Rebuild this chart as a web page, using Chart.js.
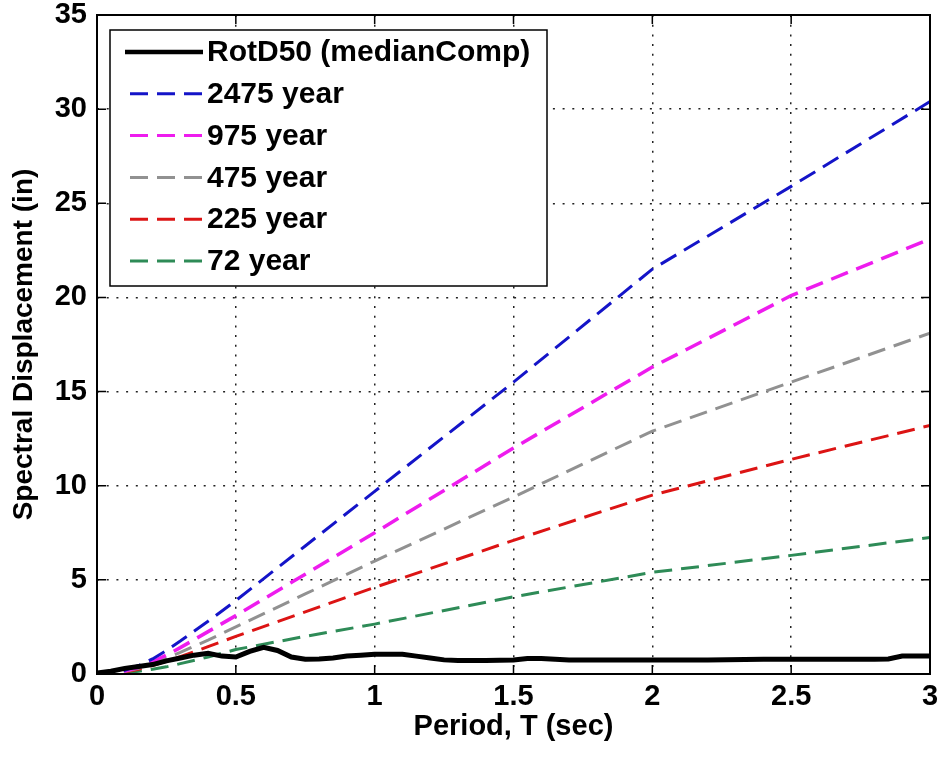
<!DOCTYPE html>
<html>
<head>
<meta charset="utf-8">
<script src="https://cdn.jsdelivr.net/npm/chart.js@4/dist/chart.umd.min.js"></script>
<style>
  html, body { margin: 0; padding: 0; background: #fff; }
  #wrap { width: 942px; height: 759px; }
</style>
</head>
<body>
<div id="wrap"><canvas id="chart" width="942" height="759"></canvas></div>
<script>
// Values
const seriesNames = ['RotD50 (medianComp)', '2475 year', '975 year', '475 year', '225 year', '72 year'];

const periods = [0, 0.05, 0.1, 0.15, 0.2, 0.25, 0.3, 0.4, 0.5, 0.75, 1, 1.5, 2, 2.5, 3];
const sd2475 = [0, 0.05, 0.2, 0.45, 0.8, 1.25, 1.75, 2.8, 3.9, 6.8, 9.7, 15.5, 21.5, 25.9, 30.4];
const sd975  = [0, 0.04, 0.16, 0.36, 0.65, 1.0, 1.4, 2.25, 3.1, 5.3, 7.5, 12.0, 16.3, 20.1, 23.1];
const sd475  = [0, 0.03, 0.13, 0.3, 0.55, 0.85, 1.15, 1.8, 2.5, 4.25, 6.0, 9.4, 12.9, 15.5, 18.1];
const sd225  = [0, 0.03, 0.1, 0.25, 0.45, 0.68, 0.92, 1.45, 2.0, 3.3, 4.6, 7.1, 9.5, 11.4, 13.2];
const sd72   = [0, 0.02, 0.06, 0.14, 0.25, 0.38, 0.55, 0.9, 1.3, 2.0, 2.65, 4.1, 5.4, 6.3, 7.25];

const rotPeriods = [0, 0.05, 0.1, 0.15, 0.2, 0.25, 0.3, 0.35, 0.4, 0.45, 0.5, 0.55, 0.6, 0.65, 0.7, 0.75,
  0.8, 0.85, 0.9, 0.95, 1.0, 1.05, 1.1, 1.15, 1.2, 1.25, 1.3, 1.4, 1.5, 1.55, 1.6, 1.65, 1.7, 1.8, 1.9,
  2.0, 2.1, 2.2, 2.4, 2.6, 2.8, 2.85, 2.9, 3.0];
const rotD50 = [0.05, 0.15, 0.3, 0.4, 0.5, 0.7, 0.85, 1.0, 1.1, 0.95, 0.9, 1.2, 1.42, 1.25, 0.9, 0.78,
  0.8, 0.85, 0.95, 1.0, 1.05, 1.05, 1.05, 0.95, 0.85, 0.75, 0.72, 0.72, 0.75, 0.82, 0.82, 0.78, 0.75,
  0.75, 0.75, 0.75, 0.75, 0.75, 0.78, 0.78, 0.78, 0.8, 0.95, 0.95];

const xTicks = [0, 0.5, 1, 1.5, 2, 2.5, 3];
const yTicks = [0, 5, 10, 15, 20, 25, 30, 35];

const FONT = 'Liberation Sans, Arial, Helvetica, sans-serif';

function pts(xs, ys) {
  return xs.map((x, i) => ({ x: x, y: ys[i] }));
}

function dashed(label, ys, color, width) {
  return {
    label: label,
    data: pts(periods, ys),
    borderColor: color,
    borderWidth: width,
    borderDash: [18, 9],
    pointRadius: 0,
    tension: 0,
    fill: false
  };
}

// Box round the plot with inward ticks on all four sides
const boxPlugin = {
  id: 'box',
  afterDraw(chart) {
    const ctx = chart.ctx;
    const a = chart.chartArea;
    const xs = chart.scales.x, ys = chart.scales.y;
    const tl = 9;
    ctx.save();
    ctx.strokeStyle = '#000';
    ctx.lineWidth = 2;
    ctx.setLineDash([]);
    ctx.strokeRect(a.left, a.top, a.right - a.left, a.bottom - a.top);
    ctx.lineWidth = 1.5;
    ctx.beginPath();
    xTicks.forEach(v => {
      const px = xs.getPixelForValue(v);
      ctx.moveTo(px, a.bottom); ctx.lineTo(px, a.bottom - tl);
      ctx.moveTo(px, a.top); ctx.lineTo(px, a.top + tl);
    });
    yTicks.forEach(v => {
      const py = ys.getPixelForValue(v);
      ctx.moveTo(a.left, py); ctx.lineTo(a.left + tl, py);
      ctx.moveTo(a.right, py); ctx.lineTo(a.right - tl, py);
    });
    ctx.stroke();
    ctx.restore();
  }
};

// Legend drawn inside the upper left of the plot, like the original
const legendPlugin = {
  id: 'innerLegend',
  afterDatasetsDraw(chart) {
    const ctx = chart.ctx;
    const a = chart.chartArea;
    const left = a.left + 13, top = a.top + 15, w = 437, h = 256;
    const rowH = 41.8, first = top + 22;
    ctx.save();
    ctx.fillStyle = '#fff';
    ctx.fillRect(left, top, w, h);
    ctx.strokeStyle = '#000';
    ctx.lineWidth = 1.5;
    ctx.strokeRect(left, top, w, h);
    ctx.font = 'bold 30px ' + FONT;
    ctx.textBaseline = 'middle';
    ctx.textAlign = 'left';
    chart.data.datasets.forEach((ds, i) => {
      const y = first + i * rowH;
      ctx.strokeStyle = ds.borderColor;
      ctx.lineWidth = ds.borderDash ? 3 : 4.5;
      ctx.setLineDash(ds.borderDash || []);
      ctx.beginPath();
      if (ds.borderDash) { ctx.moveTo(left + 20, y); ctx.lineTo(left + 92, y); }
      else { ctx.moveTo(left + 15, y); ctx.lineTo(left + 93, y); }
      ctx.stroke();
      ctx.setLineDash([]);
      ctx.fillStyle = '#000';
      ctx.fillText(ds.label, left + 97, y + 1);
    });
    ctx.restore();
  }
};

new Chart(document.getElementById('chart'), {
  type: 'line',
  data: {
    datasets: [
      {
        label: seriesNames[0],
        data: pts(rotPeriods, rotD50),
        borderColor: '#000',
        borderWidth: 5,
        pointRadius: 0,
        tension: 0,
        fill: false
      },
      dashed(seriesNames[1], sd2475, '#1414c8', 3),
      dashed(seriesNames[2], sd975, '#ee1cee', 3.5),
      dashed(seriesNames[3], sd475, '#919191', 3),
      dashed(seriesNames[4], sd225, '#dc1414', 3),
      dashed(seriesNames[5], sd72, '#2e8b57', 3)
    ]
  },
  options: {
    responsive: false,
    animation: false,
    devicePixelRatio: 1,
    layout: { padding: { top: 15, right: 12, left: 0, bottom: 0 } },
    plugins: {
      legend: { display: false },
      tooltip: { enabled: false }
    },
    scales: {
      x: {
        type: 'linear',
        min: 0,
        max: 3,
        afterBuildTicks: s => { s.ticks = xTicks.map(v => ({ value: v })); },
        afterFit: s => { s.height = 85; s.paddingLeft = 0; s.paddingRight = 0; },
        ticks: {
          color: '#000',
          padding: 6,
          maxRotation: 0,
          font: { family: FONT, size: 29, weight: 'bold' },
          callback: v => String(v)
        },
        grid: { color: '#222', lineWidth: 1.5, drawTicks: false },
        border: { display: false, dash: [2, 7.7] },
        title: {
          display: true,
          text: 'Period, T (sec)',
          color: '#000',
          font: { family: FONT, size: 29, weight: 'bold' },
          padding: { top: 0, bottom: 15 }
        }
      },
      y: {
        type: 'linear',
        min: 0,
        max: 35,
        afterBuildTicks: s => { s.ticks = yTicks.map(v => ({ value: v })); },
        afterFit: s => { s.width = 97; s.paddingTop = 0; s.paddingBottom = 0; },
        ticks: {
          color: '#000',
          padding: 10,
          font: { family: FONT, size: 29, weight: 'bold' },
          callback: v => String(v)
        },
        grid: { color: '#222', lineWidth: 1.5, drawTicks: false },
        border: { display: false, dash: [2, 7.7] },
        title: {
          display: true,
          text: 'Spectral Displacement (in)',
          color: '#000',
          font: { family: FONT, size: 28, weight: 'bold' },
          padding: { top: 7, bottom: 0 }
        }
      }
    }
  },
  plugins: [boxPlugin, legendPlugin]
});
</script>
</body>
</html>
